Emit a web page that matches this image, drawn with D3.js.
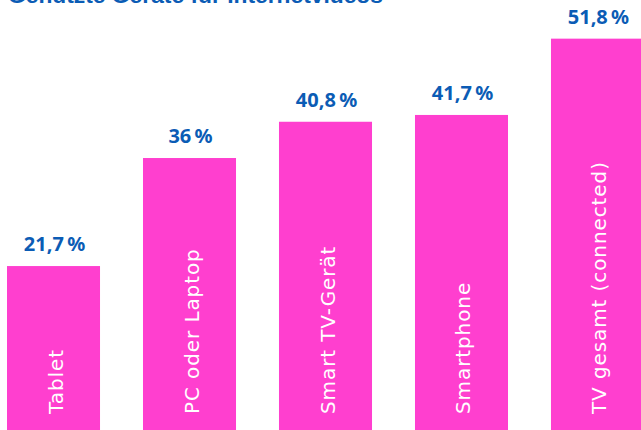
<!DOCTYPE html>
<html><head><meta charset="utf-8">
<script src="https://cdn.jsdelivr.net/npm/d3@7"></script>
<style>html,body{margin:0;padding:0;background:#fff;overflow:hidden}</style>
</head><body>
<svg id="c" width="641" height="430"></svg>
<script>
const title = "Genutzte Geräte für Internetvideos";
const categories = ["Tablet", "PC oder Laptop", "Smart TV-Gerät", "Smartphone", "TV gesamt (connected)"];
const values = [21.7, 36, 40.8, 41.7, 51.8];
const valueLabels = ["21,7\u2009%", "36\u2009%", "40,8\u2009%", "41,7\u2009%", "51,8\u2009%"];

const svg = d3.select("#c");
const pink = "#ff3fcf", blue = "#0b5cb5";
const x = d3.scaleBand().domain(categories).range([7, 644]).paddingInner(0.316).paddingOuter(0);
const y = d3.scaleLinear().domain([0, 100]).range([430, 430 - 755.5]);

svg.append("text").attr("x", 8).attr("y", 3).attr("fill", blue)
  .attr("font-family", "'Liberation Sans', Arial, sans-serif").attr("font-weight", "bold")
  .attr("font-size", 22.8).text(title);

const g = svg.selectAll("g.bar").data(categories).join("g").attr("class", "bar");
g.append("rect").attr("x", d => x(d)).attr("y", (d, i) => y(values[i]))
  .attr("width", x.bandwidth()).attr("height", (d, i) => y(0) - y(values[i])).attr("fill", pink);
g.append("text").attr("x", d => x(d) + x.bandwidth() / 2 + 1).attr("y", (d, i) => y(values[i]) - 15)
  .attr("text-anchor", "middle").attr("fill", blue)
  .attr("font-family", "'Noto Sans', sans-serif").attr("font-weight", "bold").attr("font-size", 20)
  .text((d, i) => valueLabels[i]);
g.append("text")
  .attr("transform", d => `translate(${x(d) + x.bandwidth() / 2 + 9},414) rotate(-90)`)
  .attr("fill", "#fff").attr("font-family", "'DejaVu Sans', sans-serif").attr("font-size", 20)
  .attr("letter-spacing", 0.9)
  .text(d => d);
</script>
</body></html>
